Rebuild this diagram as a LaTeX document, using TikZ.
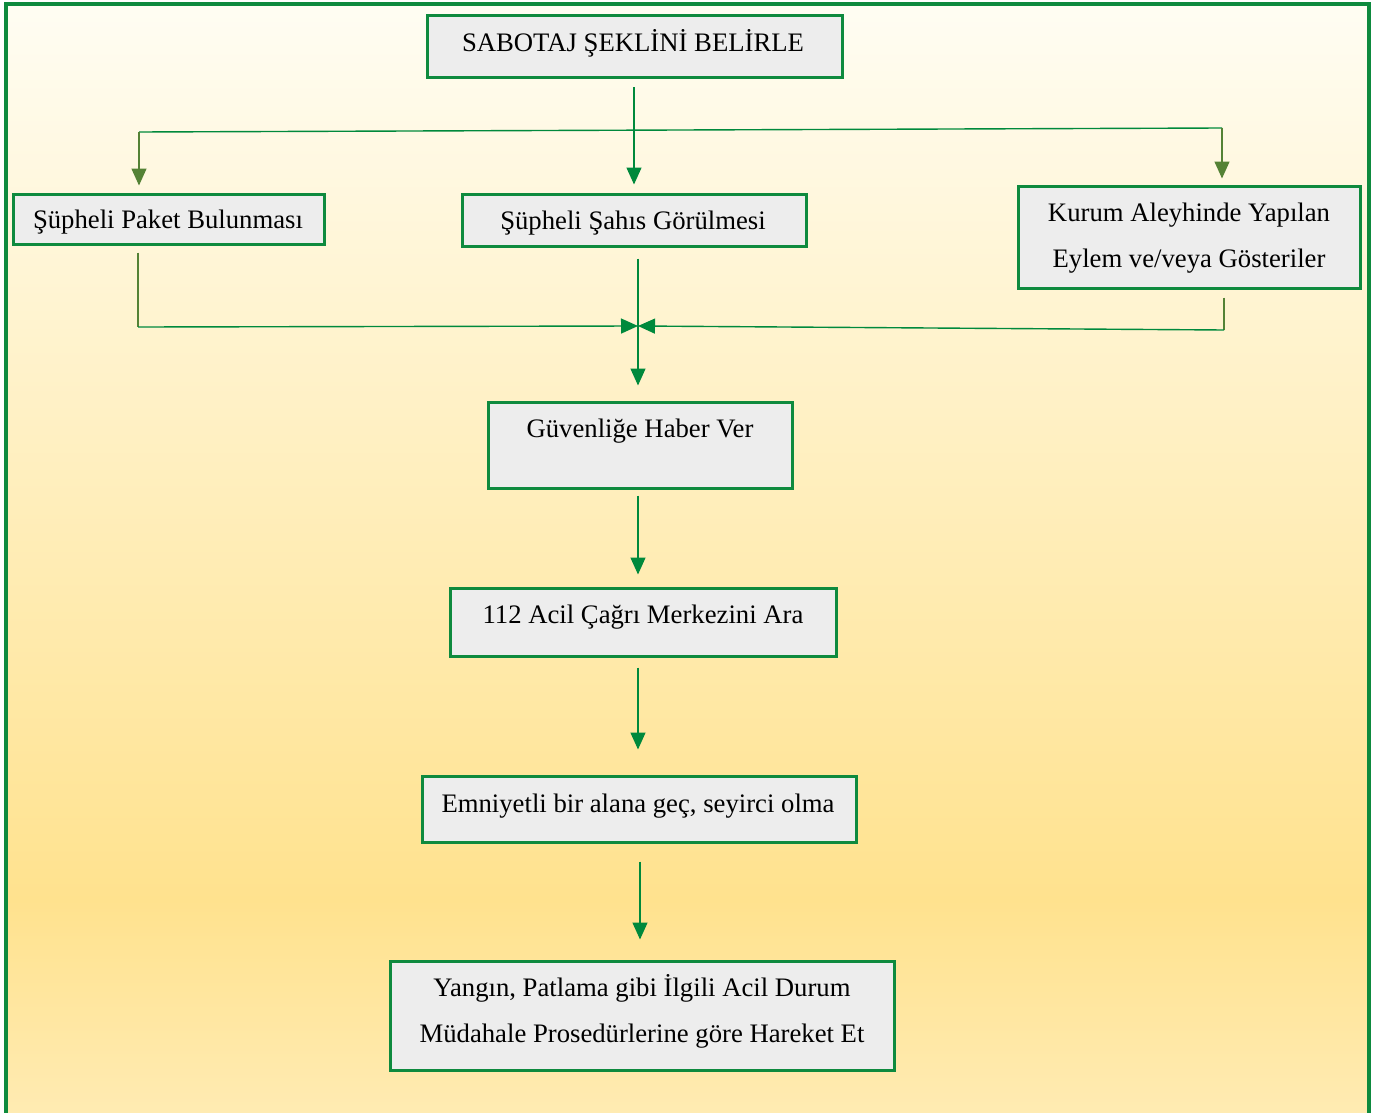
\documentclass[tikz,border=0pt]{standalone}
\usepackage{fontspec}
\setmainfont{Liberation Serif}
\usetikzlibrary{arrows.meta}
\definecolor{framegreen}{HTML}{0E8A3E}
\definecolor{boxfill}{HTML}{EDEDED}
\definecolor{arrg}{HTML}{00893C}
\definecolor{olivegreen}{HTML}{548235}
\definecolor{bgtop}{HTML}{FFFDF3}
\definecolor{bgmid}{HTML}{FFE28E}
\definecolor{bgbot}{HTML}{FFEBB2}
\begin{document}
\begin{tikzpicture}[x=1pt,y=-1pt,
  box/.style={draw=framegreen, line width=3pt, fill=boxfill, inner sep=0pt},
  lbl/.style={font=\fontsize{26.7}{46}\selectfont, align=center, inner sep=0pt, text=black},
  flow/.style={draw=arrg, line width=1.4pt},
  oflow/.style={draw=olivegreen, line width=1.4pt},
  tipg/.style={-{Triangle[width=15pt,length=17pt]}},
]
\useasboundingbox (0,0) rectangle (1381,1113);
\fill[white] (0,0) rectangle (1381,1113);
\fill[top color=bgtop, bottom color=bgmid] (5.5,4.5) rectangle (1369,900);
\fill[top color=bgmid, bottom color=bgbot] (5.5,899.5) rectangle (1369,1113);
\draw[framegreen, line width=4pt] (5.5,1114) -- (5.5,4.5) -- (1369,4.5) -- (1369,1114);

% boxes
\node[box, minimum width=415pt, minimum height=62pt] (top) at (634.5,47) {};
\node[box, minimum width=311pt, minimum height=50pt] (paket) at (168.5,219) {};
\node[box, minimum width=344pt, minimum height=52pt] (sahis) at (634,220) {};
\node[box, minimum width=342pt, minimum height=102pt] (kurum) at (1189,237) {};
\node[box, minimum width=304pt, minimum height=86pt] (guv) at (640,445) {};
\node[box, minimum width=386pt, minimum height=68pt] (acil) at (643,622) {};
\node[box, minimum width=434pt, minimum height=66pt] (emn) at (639,809) {};
\node[box, minimum width=504pt, minimum height=109pt] (yangin) at (642,1015.5) {};

% labels
\node[lbl] (topt) at (633,43) {SABOTAJ ŞEKLİNİ BELİRLE};
\node[lbl] (paktt) at (168,222) {Şüpheli Paket Bulunması};
\node[lbl] (sahist) at (633,223) {Şüpheli Şahıs Görülmesi};
\node[lbl] (kurumt) at (1189,238) {Kurum Aleyhinde Yapılan\\Eylem ve/veya Gösteriler};
\node[lbl] (guvt) at (640,431) {Güvenliğe Haber Ver};
\node[lbl] (acilt) at (643,617) {112 Acil Çağrı Merkezini Ara};
\node[lbl] (emnt) at (638,806) {Emniyetli bir alana geç, seyirci olma};
\node[lbl] (yangint) at (642,1011) {Yangın, Patlama gibi İlgili Acil Durum\\Müdahale Prosedürlerine göre Hareket Et};

% coordinates
\coordinate (hl) at (139,132);
\coordinate (hr) at (1222,128);
\coordinate (bl) at (138,327);
\coordinate (br) at (1224,330);
\coordinate (mg) at (638,326);
\coordinate (c1) at (638,0);
\coordinate (c2) at (640,0);

% top split
\draw[flow] (hl) -- (hr);
\draw[flow, tipg, shorten <=8pt, shorten >=8pt] (top.south -| sahis.north) -- (sahis.north);
\draw[oflow, -{Triangle[width=15pt,length=17pt, fill=olivegreen]}, shorten >=7pt] (hl) -- (hl |- paket.north);
\draw[oflow, -{Triangle[width=15pt,length=17pt, fill=olivegreen]}, shorten >=6pt] (hr) -- (hr |- kurum.north);

% merge
\draw[oflow, shorten <=7pt] (paket.south -| bl) -- (bl);
\draw[oflow, shorten <=8pt] (kurum.south -| br) -- (br);
\draw[flow, tipg] (bl) -- (mg);
\draw[flow, tipg] (br) -- (mg);
\draw[flow, tipg, shorten <=11pt, shorten >=15pt] (sahis.south -| c1) -- (guv.north -| c1);

% chain
\draw[flow, tipg, shorten <=6pt, shorten >=12pt] (guv.south -| c1) -- (acil.north -| c1);
\draw[flow, tipg, shorten <=10pt, shorten >=25pt] (acil.south -| c1) -- (emn.north -| c1);
\draw[flow, tipg, shorten <=18pt, shorten >=20pt] (emn.south -| c2) -- (yangin.north -| c2);
\end{tikzpicture}
\end{document}
